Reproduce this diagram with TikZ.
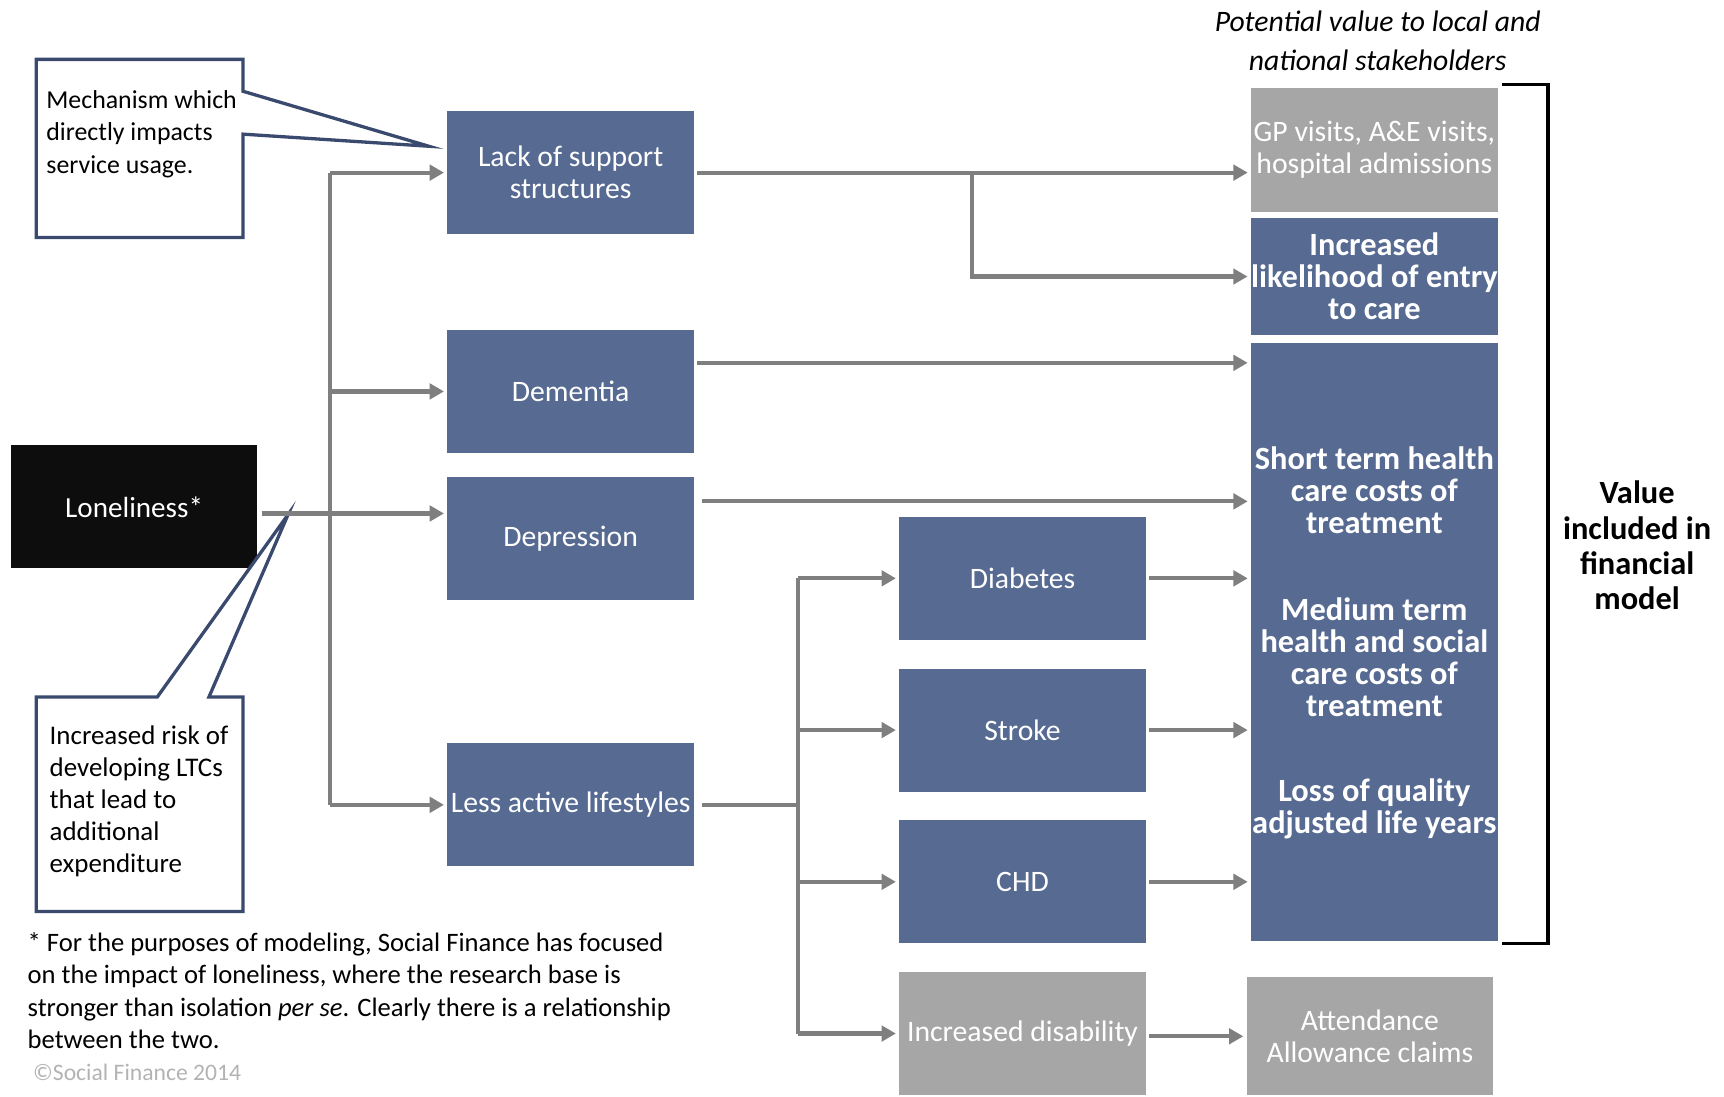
\documentclass[tikz,border=0pt]{standalone}
\usepackage{fontspec}
\setmainfont{Carlito}
\usetikzlibrary{arrows.meta}
\definecolor{sfblue}{HTML}{566A92}
\definecolor{sfgray}{HTML}{A6A6A6}
\definecolor{lnk}{HTML}{7F7F7F}
\definecolor{navy}{HTML}{3A4A6E}
\definecolor{copy}{HTML}{B3B3B3}
\begin{document}
\begin{tikzpicture}[x=1pt,y=-1pt,
  bx/.style={fill=sfblue, text=white, minimum width=224pt, minimum height=112pt, inner sep=0pt, align=center, font=\fontsize{27}{29}\selectfont},
  gbx/.style={bx, fill=sfgray},
  bold/.style={text=white, align=center, inner sep=0pt, font=\fontsize{29.5}{29}\selectfont\bfseries},
  ln/.style={draw=lnk, line width=3.8pt},
  arr/.style={ln, -{Triangle[length=13pt,width=14pt]}, shorten >=3pt},
  callout/.style={draw=navy, line width=3pt, fill=white, line join=miter},
  ctext/.style={align=left, inner sep=0pt, anchor=west, font=\fontsize{23.5}{29.3}\selectfont}
]
\useasboundingbox (0,0) rectangle (1568,997);

% title
\node[align=center, inner sep=0pt, font=\fontsize{27}{35}\selectfont\itshape] (title) at (1253,37) {Potential value to local and\\national stakeholders};

% callouts
\draw[callout] (33,54) -- (221,54) -- (221,83) -- (390,133) -- (221,122) -- (221,216) -- (33,216) -- cycle;
\node[ctext] (mech) at (42,122) {Mechanism which\\directly impacts\\service usage.};

% left column
\node[bx, fill=black!95, font=\fontsize{26.5}{29}\selectfont] (lone) at (122,461) {Loneliness*};
\draw[callout] (33,634) -- (143,634) -- (262,468) -- (190,634) -- (221,634) -- (221,829) -- (33,829) -- cycle;
\node[ctext, font=\fontsize{24.5}{29.2}\selectfont] (risk) at (45,729) {Increased risk of\\developing LTCs\\that lead to\\additional\\expenditure};

\node[bx] (lack) at (519,157) {Lack of support\\structures};
\node[bx] (dem) at (519,356) {Dementia};
\node[bx] (dep) at (519,490) {Depression};
\node[bx] (less) at (519,732) {Less active lifestyles};

\node[bx] (diab) at (930,526) {Diabetes};
\node[bx] (stroke) at (930,664) {Stroke};
\node[bx] (chd) at (930,802) {CHD};
\node[gbx] (dis) at (930,940) {Increased disability};

% right column
\node[gbx, minimum height=113pt] (gp) at (1250,136.5) {GP visits, A\&E visits,\\hospital admissions};
\node[bx, minimum height=107pt, font=\fontsize{29.5}{29}\selectfont\bfseries] (likely) at (1250,251.5) {Increased\\likelihood of entry\\to care};
\node[bx, minimum height=544pt] (big) at (1250,584) {};
\node[bold] (short) at (1250,446) {Short term health\\care costs of\\treatment};
\node[bold] (med) at (1250,597.5) {Medium term\\health and social\\care costs of\\treatment};
\node[bold] (qaly) at (1250,735.5) {Loss of quality\\adjusted life years};
\node[gbx, minimum height=107pt] (att) at (1246,942.5) {Attendance\\Allowance claims};

% bracket and label
\draw[line width=3pt, black] (1366,77) -| (1408,858) -- (1366,858);
\node[align=center, inner sep=0pt, font=\fontsize{29.5}{32}\selectfont\bfseries] (val) at (1489,496) {Value\\included in\\financial\\model};

% footnote
\node[ctext, font=\fontsize{24.2}{29.3}\selectfont] (foot) at (25,901) {* For the purposes of modeling, Social Finance has focused\\on the impact of loneliness, where the research base is\\stronger than isolation \textit{per se}. Clearly there is a relationship\\between the two.};
\node[inner sep=0pt, anchor=west, text=copy, font=\fontsize{21.5}{24}\selectfont] (copyr) at (30,975) {\textcopyright Social Finance 2014};

% connectors
\coordinate (yl) at (0,467);
\coordinate (ta) at (300,0);
\coordinate (tb) at (884,0);
\coordinate (tc) at (726,0);
\coordinate (ydem) at (0,330);
\coordinate (ydep) at (0,456);

\draw[arr] ([xshift=4pt]lone.east |- yl) -- (dep.west |- yl);
\draw[ln] (ta |- lack.west) -- (ta |- less.west);
\draw[arr] (ta |- lack.west) -- (lack.west);
\draw[arr] (ta |- dem.west) -- (dem.west);
\draw[arr] (ta |- less.west) -- (less.west);

\draw[arr] ([xshift=3pt]lack.east) -- (gp.west |- lack.east);
\draw[arr] (tb |- lack.east) -- (tb |- likely.west) -- (likely.west);
\draw[arr] ([xshift=3pt]dem.east |- ydem) -- (big.west |- ydem);
\draw[arr] ([xshift=7pt]dep.east |- ydep) -- (big.west |- ydep);

\draw[ln] ([xshift=7pt]less.east) -- (tc |- less.east);
\draw[ln] (tc |- diab.west) -- (tc |- dis.west);
\draw[arr] (tc |- diab.west) -- (diab.west);
\draw[arr] (tc |- stroke.west) -- (stroke.west);
\draw[arr] (tc |- chd.west) -- (chd.west);
\draw[arr] (tc |- dis.west) -- (dis.west);

\draw[arr] ([xshift=3pt]diab.east) -- (big.west |- diab.east);
\draw[arr] ([xshift=3pt]stroke.east) -- (big.west |- stroke.east);
\draw[arr] ([xshift=3pt]chd.east) -- (big.west |- chd.east);
\draw[arr] ([xshift=3pt]dis.east |- att.west) -- (att.west);
\end{tikzpicture}
\end{document}
